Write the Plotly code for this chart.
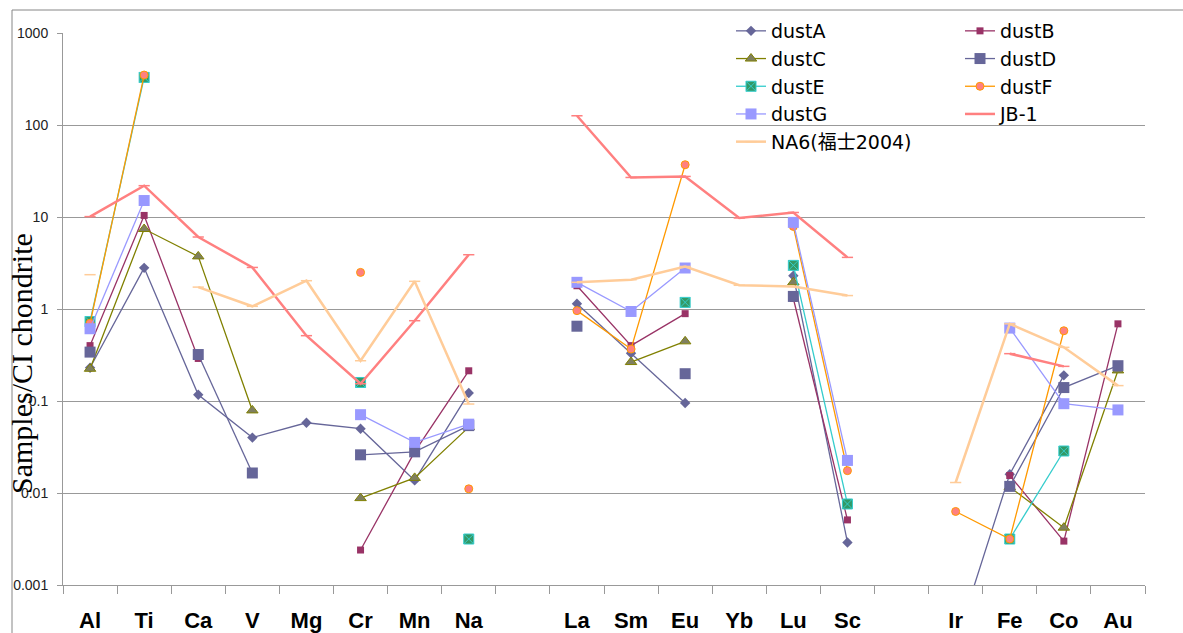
import plotly.graph_objects as go

categories = ["Al", "Ti", "Ca", "V", "Mg", "Cr", "Mn", "Na", " ",
              "La", "Sm", "Eu", "Yb", "Lu", "Sc", "  ",
              "Ir", "Fe", "Co", "Au"]

dustA = [0.23, 2.8, 0.117, 0.040, 0.058, 0.050, 0.0137, 0.122, None,
         1.14, 0.33, 0.095, None, 2.3, 0.0029, None,
         0.00023, 0.016, 0.19, None]
dustB = [0.40, 10.4, 0.29, None, None, 0.0024, 0.028, 0.213, None,
         1.79, 0.40, 0.89, None, 1.3, 0.0051, None,
         None, 0.0155, 0.0030, 0.69]
dustC = [0.224, 7.4, 3.73, 0.079, None, 0.0088, 0.0146, 0.052, None,
         None, 0.265, 0.445, None, 1.95, None, None,
         None, 0.0116, 0.0042, 0.215]
dustD = [0.34, None, 0.32, 0.0165, None, 0.026, 0.028, 0.054, None,
         0.65, None, 0.198, None, 1.37, None, None,
         None, 0.0118, 0.14, 0.242]
dustE = [0.73, 329, None, None, None, 0.159, None, 0.00316, None,
         None, None, 1.18, None, 2.98, 0.0076, None,
         None, 0.00316, 0.0286, None]
dustF = [0.70, 349, None, None, None, 2.5, None, 0.0111, None,
         0.96, 0.367, 37, None, 7.9, 0.0175, None,
         0.0063, 0.00316, 0.58, None]
dustG = [0.61, 15.1, None, None, None, 0.071, 0.0355, 0.056, None,
         1.95, 0.94, 2.79, None, 8.74, 0.0226, None,
         None, 0.62, 0.0935, 0.080]
jb1 = [10.1, 21.9, 6.06, 2.83, 0.513, 0.154, 0.746, 3.89, None,
       126, 26.9, 27.6, 9.75, 11.2, 3.64, None,
       None, 0.327, 0.238, None]
na6 = [2.36, None, 1.73, 1.07, 2.03, 0.274, 2.0, 0.0927, None,
       1.95, 2.08, 2.90, 1.81, 1.76, 1.40, None,
       0.013, 0.69, 0.383, 0.147]

ytick_vals = [0.001, 0.01, 0.1, 1, 10, 100, 1000]
ytick_text = ["0.001", "0.01", "0.1", "1", "10", "100", "1000"]

series = [
    ("dustA", dustA, dict(color="#666699", width=1.3),
     dict(symbol="diamond", size=8, color="#666699"), "legend"),
    ("dustB", dustB, dict(color="#993366", width=1.3),
     dict(symbol="square", size=7, color="#993366"), "legend2"),
    ("dustC", dustC, dict(color="#808000", width=1.3),
     dict(symbol="triangle-up", size=10, color="#7f7f60",
          line=dict(color="#808000", width=1)), "legend"),
    ("dustD", dustD, dict(color="#666699", width=1.3),
     dict(symbol="square", size=11, color="#666699"), "legend2"),
    ("dustE", dustE, dict(color="#33CCCC", width=1.3),
     dict(symbol="square-x", size=10, color="#339966",
          line=dict(color="#33CCCC", width=1)), "legend"),
    ("dustF", dustF, dict(color="#FF9900", width=1.3),
     dict(symbol="circle", size=8, color="#FF8080",
          line=dict(color="#FF9900", width=1)), "legend2"),
    ("dustG", dustG, dict(color="#9999FF", width=1.3),
     dict(symbol="square", size=11, color="#9999FF"), "legend"),
    ("JB-1", jb1, dict(color="#FF8080", width=2.5),
     dict(symbol="line-ew", size=8, color="#FF8080",
          line=dict(color="#FF8080", width=1.5)), "legend2"),
    ("NA6(福士2004)", na6, dict(color="#FFCC99", width=2.5),
     dict(symbol="line-ew", size=8, color="#FFCC99",
          line=dict(color="#FFCC99", width=1.5)), "legend"),
]

fig = go.Figure()
for name, vals, line, marker, lg in series:
    fig.add_trace(go.Scatter(
        x=categories, y=vals, name=name, mode="lines+markers",
        line=line, marker=marker, legend=lg, connectgaps=False,
    ))

L, R, T, B = 63, 38, 33, 48
W, H = 1183, 633
pw, ph = W - L - R, H - T - B

def px(x):
    return (x - L) / pw

def py(y):
    return (H - B - y) / ph

legend_font = dict(family="DejaVu Sans, Noto Sans CJK JP", size=19, color="#000000")

fig.update_layout(
    width=W, height=H,
    margin=dict(l=L, r=R, t=T, b=B, autoexpand=False),
    paper_bgcolor="white", plot_bgcolor="white",
    xaxis=dict(
        type="category", categoryorder="array", categoryarray=categories,
        showgrid=False, showline=True, linecolor="#999999", linewidth=1,
        ticks="outside", tickson="boundaries", ticklen=8, tickcolor="#999999",
        tickfont=dict(family="Liberation Sans", size=22, color="#000000", weight="bold"),
        ticklabelstandoff=16, automargin=False,
        range=[-0.5, len(categories) - 0.5],
    ),
    yaxis=dict(
        type="log", range=[-3, 3],
        tickvals=ytick_vals, ticktext=ytick_text,
        showgrid=True, gridcolor="#999999", gridwidth=1,
        showline=True, linecolor="#999999", linewidth=1,
        ticks="outside", ticklen=5, tickcolor="#999999",
        tickfont=dict(family="Liberation Sans", size=14, color="#222222"),
        ticklabelstandoff=6,
        zeroline=False, automargin=False,
    ),
    legend=dict(x=px(731), xanchor="left", y=py(12), yanchor="top",
                bgcolor="rgba(0,0,0,0)", font=legend_font,
                traceorder="normal"),
    legend2=dict(x=px(960), xanchor="left", y=py(12), yanchor="top",
                 bgcolor="rgba(0,0,0,0)", font=legend_font,
                 traceorder="normal"),
    showlegend=True,
    annotations=[dict(
        text="Samples/CI chondrite", textangle=-90,
        xref="paper", yref="paper", x=px(21), y=py(364),
        xanchor="center", yanchor="middle", showarrow=False,
        font=dict(family="Liberation Serif", size=30, color="#000000"),
    )],
    shapes=[
        dict(type="rect", xref="paper", yref="paper",
             x0=px(717), x1=px(1183), y0=py(165), y1=py(11),
             fillcolor="white", line=dict(width=0), layer="between"),
        dict(type="line", xref="paper", yref="paper",
             x0=px(12), x1=px(1190), y0=py(10), y1=py(10),
             line=dict(color="#868686", width=1)),
        dict(type="line", xref="paper", yref="paper",
             x0=px(12), x1=px(12), y0=py(10), y1=py(640),
             line=dict(color="#868686", width=1)),
    ],
)

fig.write_html("out.html", config={"displayModeBar": False},
               post_script="document.body.style.margin='0';")
